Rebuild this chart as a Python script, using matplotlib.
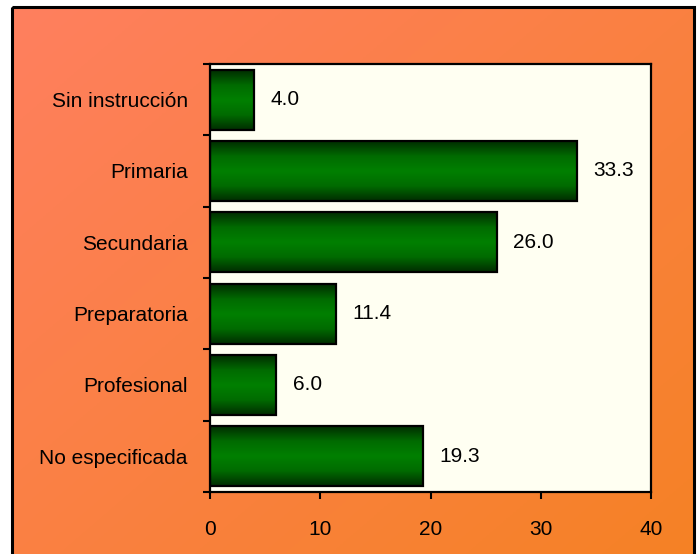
import numpy as np
import matplotlib.pyplot as plt
from matplotlib.patches import Rectangle
from matplotlib.colors import LinearSegmentedColormap

# Data
categories = ['Sin instrucción', 'Primaria', 'Secundaria', 'Preparatoria',
              'Profesional', 'No especificada']
values = [4.0, 33.3, 26.0, 11.4, 6.0, 19.3]
xticks = [0, 10, 20, 30, 40]

plt.rcParams['font.family'] = ['Liberation Sans', 'DejaVu Sans']
FS = 15

fig = plt.figure(figsize=(6.99, 5.54), dpi=100)
fig.patch.set_facecolor('white')

# orange diagonal gradient panel behind the chart
W, H = 699, 554
px0, px1, py0 = 12, 694, 7
bg = fig.add_axes([0, 0, 1, 1], zorder=0)
bg.set_xlim(0, W)
bg.set_ylim(H, 0)
bg.axis('off')
c_tl = np.array([255, 127, 95]) / 255
c_br = np.array([245, 130, 35]) / 255
gx, gy = np.meshgrid(np.linspace(0, 1, 200), np.linspace(0, 1, 200))
t = ((gx + gy) / 2)[..., None]
grad = c_tl * (1 - t) + c_br * t
bg.imshow(grad, extent=[px0, px1, H + 40, py0], aspect='auto', zorder=0)
bg.add_patch(Rectangle((px0, py0), px1 - px0, H + 40 - py0, fill=False,
                       edgecolor='black', lw=2.2, zorder=1))

# plot area
ax = fig.add_axes([210 / W, 1 - 492 / H, (651 - 210) / W, (492 - 64) / H], zorder=2)
ax.set_facecolor('#FFFFF2')

y = np.arange(len(categories))
bars = ax.barh(y, values, height=0.84, color='none', edgecolor='black',
               linewidth=1.6, zorder=3)

green = LinearSegmentedColormap.from_list(
    'g', [(0, 0.18, 0), (0, 0.42, 0), (0, 0.5, 0), (0, 0.42, 0), (0, 0.18, 0)])
col = np.linspace(0, 1, 100).reshape(-1, 1)
for b in bars:
    x0, y0 = b.get_x(), b.get_y()
    w, h = b.get_width(), b.get_height()
    im = ax.imshow(col, cmap=green, extent=[x0, x0 + w, y0 + h, y0],
                   aspect='auto', zorder=2)
    im.set_clip_path(b)

for yi, v in zip(y, values):
    ax.text(v + 1.5, yi, f'{v:.1f}', va='center', ha='left', fontsize=FS,
            zorder=4)

ax.set_xlim(0, 40)
ax.set_ylim(len(categories) - 0.5, -0.5)
ax.set_xticks(xticks)
ax.set_yticks(y)
ax.set_yticklabels(categories)
ax.set_yticks(np.arange(len(categories) + 1) - 0.5, minor=True)
ax.tick_params(axis='y', which='major', length=0, pad=16, labelsize=FS)
ax.tick_params(axis='y', which='minor', length=5, width=1.5, direction='out')
ax.tick_params(axis='x', length=5, width=1.5, direction='out', pad=15,
               labelsize=FS)
for s in ax.spines.values():
    s.set_linewidth(1.6)

fig.savefig('out.png', dpi=100)
